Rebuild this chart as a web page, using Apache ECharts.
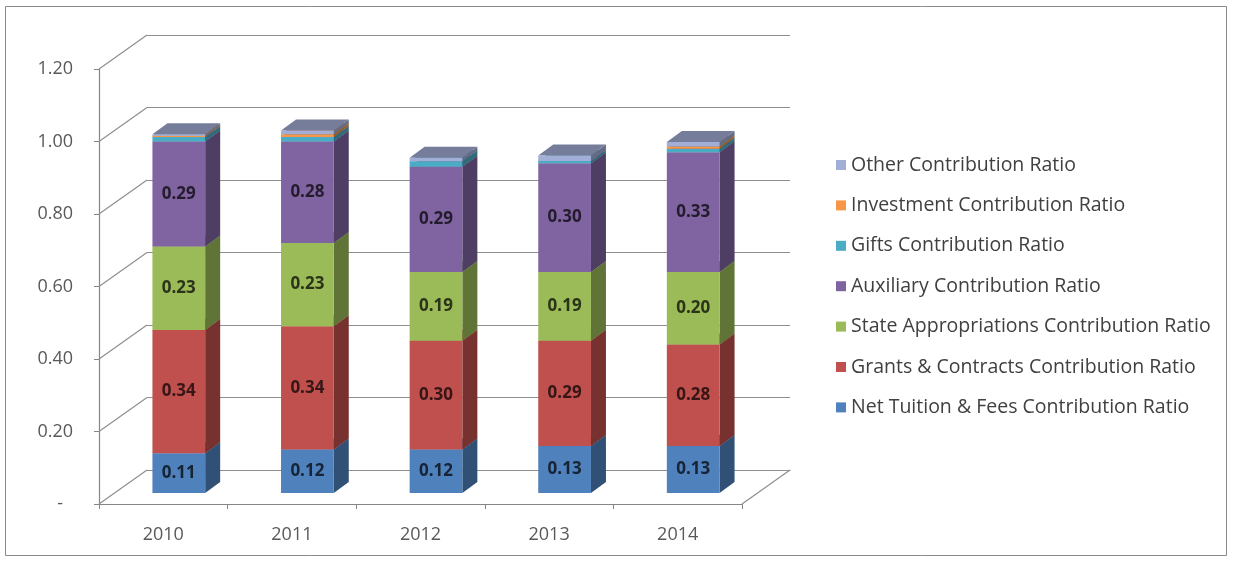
<!DOCTYPE html>
<html>
<head>
<meta charset="utf-8">
<script src="https://cdn.jsdelivr.net/npm/echarts@6/dist/echarts.min.js"></script>
<style>
  html, body { margin: 0; padding: 0; background: #fff; }
  #chart { width: 1233px; height: 561px; }
</style>
</head>
<body>
<div id="chart"></div>
<script>
// Revenue contribution ratios by fiscal year
const years = ['2010', '2011', '2012', '2013', '2014'];
const tuition    = [0.11, 0.12, 0.12, 0.13, 0.13];
const grants     = [0.34, 0.34, 0.30, 0.29, 0.28];
const state      = [0.23, 0.23, 0.19, 0.19, 0.20];
const auxiliary  = [0.29, 0.28, 0.29, 0.30, 0.33];
const gifts      = [0.012, 0.012, 0.015, 0.006, 0.010];
const investment = [0.003, 0.008, 0.000, 0.000, 0.006];
const other      = [0.005, 0.010, 0.010, 0.015, 0.012];
const yMin = 0, yMax = 1.2, yStep = 0.2;

const seriesDefs = [
  { name: 'Net Tuition & Fees Contribution Ratio', values: tuition,    color: '#4F81BD', label: true },
  { name: 'Grants & Contracts Contribution Ratio', values: grants,     color: '#C0504D', label: true },
  { name: 'State Appropriations Contribution Ratio', values: state,    color: '#9BBB59', label: true },
  { name: 'Auxiliary Contribution Ratio',          values: auxiliary,  color: '#8064A2', label: true },
  { name: 'Gifts Contribution Ratio',              values: gifts,      color: '#4BACC6', label: false },
  { name: 'Investment Contribution Ratio',         values: investment, color: '#F79646', label: false },
  { name: 'Other Contribution Ratio',              values: other,      color: '#A2AED6', label: false }
];

// 3D projection settings (pixels)
const WALL_DX = 48, WALL_DY = -34;     // depth of the floor / side wall
const FRONT_DX = 15.5, FRONT_DY = -11; // offset of the column front faces
const BAR_DX = 15, BAR_DY = -11;       // depth of each column
const BAR_RATIO = 0.41;                // column width relative to category band

function shade(hex, f) {
  const n = parseInt(hex.slice(1), 16);
  const r = (n >> 16) & 255, g = (n >> 8) & 255, b = n & 255;
  const m = c => Math.max(0, Math.min(255, Math.round(c * f)));
  return 'rgb(' + m(r) + ',' + m(g) + ',' + m(b) + ')';
}

// stacked data: [categoryIndex, base, value]
const cumulative = years.map(() => 0);
const columnSeries = seriesDefs.map(def => {
  const data = def.values.map((v, i) => {
    const item = [i, cumulative[i], v];
    cumulative[i] += v;
    return item;
  });
  const front = def.color, side = shade(def.color, 0.62), top = shade(def.color, 0.72);
  const labelColor = shade(def.color, 0.28);
  return {
    type: 'custom',
    name: def.name,
    xAxisIndex: 0, yAxisIndex: 0,
    itemStyle: { color: def.color },
    z: 3,
    clip: false,
    data: data,
    renderItem: function (params, api) {
      const ci = api.value(0), base = api.value(1), val = api.value(2);
      if (!(val > 0)) return null;
      const band = api.size([1, 0])[0];
      const w = band * BAR_RATIO;
      const p0 = api.coord([ci, base]);
      const p1 = api.coord([ci, base + val]);
      const x0 = p0[0] + FRONT_DX - w / 2, x1 = x0 + w;
      const yb = p0[1] + FRONT_DY, yt = p1[1] + FRONT_DY;
      const frontRect = {
        type: 'rect',
        shape: { x: x0, y: yt, width: w, height: yb - yt },
        style: { fill: front }
      };
      if (def.label) {
        frontRect.textContent = {
          style: {
            text: val.toFixed(2),
            fill: labelColor,
            font: 'bold 17px "Open Sans", sans-serif'
          }
        };
        frontRect.textConfig = { position: 'inside' };
      }
      return {
        type: 'group',
        children: [
          {
            type: 'polygon',
            shape: { points: [[x1, yb], [x1 + BAR_DX, yb + BAR_DY], [x1 + BAR_DX, yt + BAR_DY], [x1, yt]] },
            style: { fill: side }
          },
          {
            type: 'polygon',
            shape: { points: [[x0, yt], [x1, yt], [x1 + BAR_DX, yt + BAR_DY], [x0 + BAR_DX, yt + BAR_DY]] },
            style: { fill: top }
          },
          frontRect
        ]
      };
    }
  };
});

// side wall diagonals at each value tick, plus the right edge of the floor
const tickValues = [];
for (let v = yMin; v <= yMax + 1e-9; v += yStep) tickValues.push(+v.toFixed(2));

const gridGray = '#8f8f8f';
const wallSeries = {
  type: 'custom',
  name: 'wall',
  xAxisIndex: 0, yAxisIndex: 0,
  silent: true,
  clip: false,
  z: 1,
  data: tickValues.map(v => [0, v]),
  renderItem: function (params, api) {
    const band = api.size([1, 0])[0];
    const p = api.coord([0, api.value(1)]);
    const xl = p[0] - band / 2;
    const lineStyle = { stroke: gridGray, lineWidth: 1.2 };
    const children = [{
      type: 'line',
      shape: { x1: xl, y1: p[1], x2: xl + WALL_DX, y2: p[1] + WALL_DY },
      style: lineStyle
    }];
    if (params.dataIndex === 0) {
      const pr = api.coord([years.length - 1, api.value(1)]);
      const xr = pr[0] + band / 2;
      children.push({
        type: 'line',
        shape: { x1: xr, y1: pr[1], x2: xr + WALL_DX, y2: pr[1] + WALL_DY },
        style: lineStyle
      });
    }
    return { type: 'group', children: children };
  }
};

const axisGray = '#868686';
const textGray = '#595959';
const fontFam = '"Open Sans", sans-serif';

const option = {
  animation: false,
  backgroundColor: '#fff',
  graphic: [{
    type: 'rect',
    shape: { x: 5.5, y: 6.5, width: 1221, height: 549 },
    style: { fill: 'none', stroke: '#8a8a8a', lineWidth: 1 },
    silent: true
  }],
  legend: {
    orient: 'vertical',
    left: 831,
    top: 148,
    itemWidth: 10,
    itemHeight: 10,
    itemGap: 16.4,
    icon: 'rect',
    textStyle: { fontFamily: fontFam, fontSize: 19.5, color: '#404040', lineHeight: 24 },
    data: seriesDefs.map(d => d.name).reverse()
  },
  grid: [
    { left: 99, top: 69, width: 643, height: 435 },                     // front plane
    { left: 99 + WALL_DX, top: 69 + WALL_DY, width: 643, height: 435 }  // back wall
  ],
  xAxis: [
    {
      gridIndex: 0, type: 'category', data: years,
      axisLine: { lineStyle: { color: axisGray, width: 1.2 } },
      axisTick: { show: true, length: 5, lineStyle: { color: axisGray } },
      axisLabel: { color: textGray, fontFamily: fontFam, fontSize: 18, margin: 22 }
    },
    {
      gridIndex: 1, type: 'category', data: years,
      axisLine: { show: true, lineStyle: { color: gridGray, width: 1.2 } },
      axisTick: { show: false }, axisLabel: { show: false }
    }
  ],
  yAxis: [
    {
      gridIndex: 0, type: 'value', min: yMin, max: yMax, interval: yStep,
      axisLine: { show: true, lineStyle: { color: axisGray, width: 1.2 } },
      axisTick: { show: true, length: 5, lineStyle: { color: axisGray } },
      splitLine: { show: false },
      axisLabel: {
        color: textGray, fontFamily: fontFam, fontSize: 18, margin: 26,
        formatter: v => (v === 0 ? '{dash|-}' : v.toFixed(2)),
        rich: { dash: { color: textGray, fontFamily: fontFam, fontSize: 18, padding: [0, 10, 0, 0] } }
      }
    },
    {
      gridIndex: 1, type: 'value', min: yMin, max: yMax, interval: yStep,
      axisLine: { show: false }, axisTick: { show: false }, axisLabel: { show: false },
      splitLine: { show: true, lineStyle: { color: gridGray, width: 1.2 } }
    }
  ],
  series: [wallSeries].concat(columnSeries)
};

const chart = echarts.init(document.getElementById('chart'), null, { renderer: 'canvas' });
chart.setOption(option);
</script>
</body>
</html>
